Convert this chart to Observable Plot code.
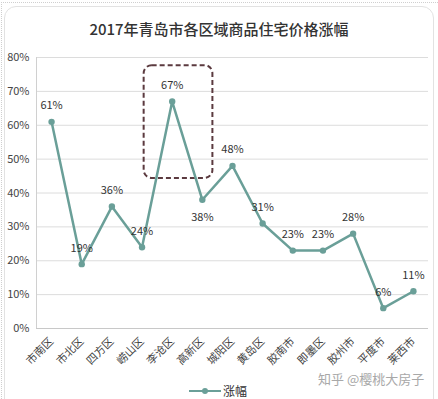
<!DOCTYPE html>
<html>
<head>
<meta charset="utf-8">
<script src="https://cdn.jsdelivr.net/npm/d3@7"></script>
<script src="https://cdn.jsdelivr.net/npm/@observablehq/plot@0.6"></script>
<style>
  html, body { margin: 0; padding: 0; background: #fff; }
  body { width: 438px; height: 399px; position: relative; overflow: hidden; font-family: "Noto Sans CJK SC", "Noto Sans", sans-serif; }
  #frame { position: absolute; left: 4px; top: 6px; width: 428px; height: 420px; border: 1px solid #e2e2e2; border-radius: 12px; }
  #outer { position: absolute; left: 1px; top: 2px; width: 500px; height: 500px; border-left: 1px dotted #cfcfcf; border-top: 1px dotted #cfcfcf; }
  #title { position: absolute; left: 0; top: 18px; width: 438px; text-align: center; font-size: 15px; color: #333; font-weight: 500; }
  #chart { position: absolute; left: 0; top: 45px; }
  #legend { position: absolute; left: 189px; top: 382px; font-size: 12px; color: #333; display: flex; align-items: center; }
  #legend .sw { position: relative; width: 32px; height: 2px; background: #6a9f98; margin-right: 2px; }
  #legend .sw::after { content: ""; position: absolute; left: 13px; top: -2px; width: 6px; height: 6px; border-radius: 3px; background: #6a9f98; }
  #wm { position: absolute; left: 318px; top: 369px; font-size: 13px; color: #a8a8a8; }
</style>
</head>
<body>
<div id="outer"></div>
<div id="frame"></div>
<div id="title">2017年青岛市各区域商品住宅价格涨幅</div>
<div id="chart"></div>
<div id="wm">知乎 @樱桃大房子</div>
<div id="legend"><span class="sw"></span><span>涨幅</span></div>
<script>
const categories = ["市南区","市北区","四方区","崂山区","李沧区","高新区","城阳区","黄岛区","胶南市","即墨区","胶州市","平度市","莱西市"];
const values = [61, 19, 36, 24, 67, 38, 48, 31, 23, 23, 28, 6, 11];
const yTicks = [0, 10, 20, 30, 40, 50, 60, 70, 80];
const belowLabels = ["高新区"];
const highlight = [{x1: 3.07, x2: 5.35, y1: 44.3, y2: 77.6}];

const data = categories.map((c, i) => ({i, name: c, v: values[i]}));
const color = "#6a9f98";

const plot = Plot.plot({
  width: 438,
  height: 335,
  marginTop: 12,
  marginBottom: 52,
  marginLeft: 36,
  marginRight: 10,
  style: {fontFamily: "'Noto Sans CJK SC', sans-serif", fontSize: "11px", color: "#444", background: "transparent"},
  x: {domain: [-0.5, categories.length - 0.5], axis: null},
  y: {domain: [0, 80], axis: null},
  marks: [
    Plot.gridY(yTicks, {stroke: "#dcdcdc", strokeOpacity: 1}),
    Plot.ruleX([-0.5], {stroke: "#d0d0d0"}),
    Plot.ruleY([0], {stroke: "#c8c8c8"}),
    Plot.axisY(yTicks, {tickSize: 0, tickPadding: 7, tickFormat: d => d + "%", fill: "#444", fontSize: 11}),
    Plot.axisX(d3.range(categories.length), {tickSize: 0, tickPadding: 11, tickRotate: -45, tickFormat: i => categories[i], fill: "#444", fontSize: 11}),
    Plot.rect(highlight, {x1: "x1", x2: "x2", y1: "y1", y2: "y2", fill: "none", stroke: "#5b3a3f", strokeWidth: 2, strokeDasharray: "5,3", rx: 8}),
    Plot.line(data, {x: "i", y: "v", stroke: color, strokeWidth: 2.5}),
    Plot.dot(data, {x: "i", y: "v", fill: color, r: 3.2}),
    Plot.text(data.filter(d => !belowLabels.includes(d.name)), {x: "i", y: "v", text: d => d.v + "%", dy: -16, fill: "#333", fontSize: 11}),
    Plot.text(data.filter(d => belowLabels.includes(d.name)), {x: "i", y: "v", text: d => d.v + "%", dy: 18, fill: "#333", fontSize: 11})
  ]
});
document.getElementById("chart").appendChild(plot);
</script>
</body>
</html>
